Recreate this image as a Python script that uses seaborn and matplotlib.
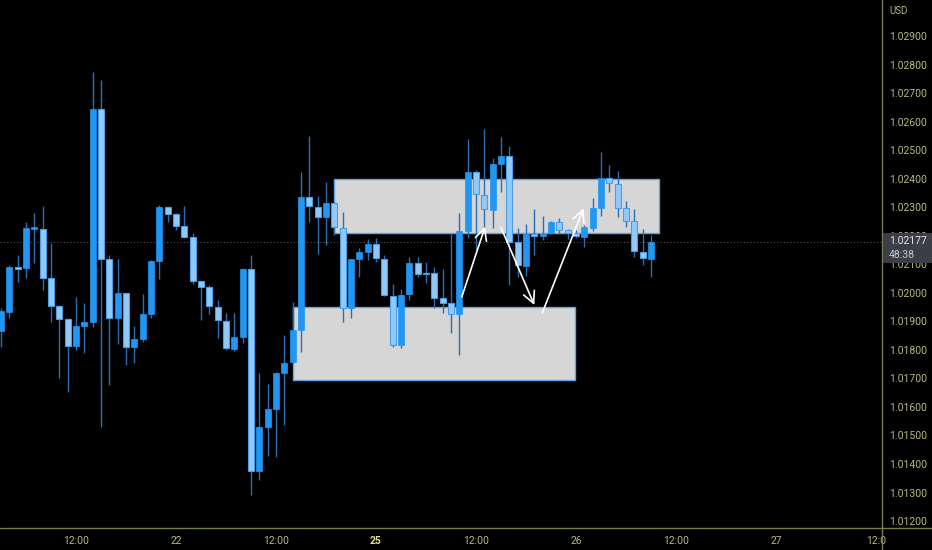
import numpy as np
import pandas as pd
import seaborn as sns
import matplotlib.pyplot as plt
from matplotlib.patches import Rectangle
from matplotlib.lines import Line2D

# hourly candles (left to right)
opens = [1.01866, 1.01933, 1.02090, 1.02087, 1.02225, 1.02224, 1.02052, 1.01954, 1.01908, 1.01813,
         1.01884, 1.01898, 1.02644, 1.02118, 1.01912, 1.01999, 1.01810, 1.01838, 1.01926, 1.02111,
         1.02301, 1.02276, 1.02234, 1.02196, 1.02041, 1.02020, 1.01950, 1.01901, 1.01803, 1.01845,
         1.02083, 1.01375, 1.01530, 1.01593, 1.01719, 1.01757, 1.01870, 1.02336, 1.02301, 1.02266,
         1.02315, 1.02227, 1.01947, 1.02118, 1.02143, 1.02171, 1.02118, 1.01989, 1.01817, 1.01996,
         1.02104, 1.02069, 1.02069, 1.01982, 1.01964, 1.01926, 1.02217, 1.02423, 1.02343, 1.02290,
         1.02451, 1.02479, 1.02178, 1.02094, 1.02206, 1.02199, 1.02210, 1.02248, 1.02220, 1.02210,
         1.02196, 1.02227, 1.02297, 1.02402, 1.02381, 1.02297, 1.02252, 1.02143, 1.02118]
highs = [1.01947, 1.02097, 1.02132, 1.02248, 1.02280, 1.02304, 1.02175, 1.01957, 1.01910, 1.01985,
         1.01964, 1.02774, 1.02746, 1.02132, 1.02118, 1.02000, 1.01884, 1.01996, 1.02115, 1.02308,
         1.02303, 1.02280, 1.02304, 1.02210, 1.02043, 1.02027, 1.01975, 1.01929, 1.01929, 1.02087,
         1.02132, 1.01719, 1.01680, 1.01722, 1.01852, 1.01968, 1.02423, 1.02550, 1.02339, 1.02388,
         1.02318, 1.02283, 1.02120, 1.02157, 1.02189, 1.02192, 1.02132, 1.02031, 1.02013, 1.02125,
         1.02125, 1.02108, 1.02090, 1.02083, 1.02210, 1.02280, 1.02539, 1.02430, 1.02574, 1.02472,
         1.02546, 1.02515, 1.02227, 1.02241, 1.02294, 1.02269, 1.02252, 1.02262, 1.02222, 1.02220,
         1.02238, 1.02332, 1.02493, 1.02448, 1.02427, 1.02322, 1.02294, 1.02224, 1.02203]
lows = [1.01810, 1.01912, 1.02038, 1.02052, 1.02104, 1.02010, 1.01898, 1.01701, 1.01652, 1.01799,
        1.01789, 1.01880, 1.01530, 1.01677, 1.01820, 1.01747, 1.01754, 1.01827, 1.01912, 1.02048,
        1.02248, 1.02220, 1.02192, 1.02031, 1.01905, 1.01926, 1.01842, 1.01799, 1.01796, 1.01824,
        1.01291, 1.01344, 1.01428, 1.01424, 1.01537, 1.01754, 1.01792, 1.02248, 1.02136, 1.02168,
        1.02203, 1.01898, 1.01912, 1.02055, 1.02115, 1.02108, 1.01989, 1.01810, 1.01806, 1.01975,
        1.02055, 1.02034, 1.01947, 1.01929, 1.01859, 1.01782, 1.02192, 1.02150, 1.02227, 1.02227,
        1.02353, 1.02027, 1.02055, 1.02059, 1.02132, 1.02185, 1.02206, 1.02206, 1.02189, 1.02192,
        1.02160, 1.02217, 1.02269, 1.02353, 1.02266, 1.02231, 1.02125, 1.02097, 1.02055]
closes = [1.01936, 1.02090, 1.02085, 1.02227, 1.02228, 1.02052, 1.01954, 1.01908, 1.01813, 1.01884,
          1.01898, 1.02644, 1.02118, 1.01912, 1.01999, 1.01810, 1.01838, 1.01926, 1.02111, 1.02301,
          1.02276, 1.02234, 1.02196, 1.02041, 1.02020, 1.01954, 1.01905, 1.01806, 1.01845, 1.02083,
          1.01375, 1.01530, 1.01593, 1.01719, 1.01754, 1.01870, 1.02336, 1.02304, 1.02266, 1.02315,
          1.02231, 1.01947, 1.02118, 1.02143, 1.02171, 1.02122, 1.01992, 1.01817, 1.01992, 1.02104,
          1.02066, 1.02067, 1.01982, 1.01964, 1.01926, 1.02217, 1.02423, 1.02346, 1.02294, 1.02451,
          1.02479, 1.02178, 1.02097, 1.02206, 1.02199, 1.02206, 1.02248, 1.02220, 1.02210, 1.02199,
          1.02231, 1.02297, 1.02402, 1.02385, 1.02297, 1.02252, 1.02146, 1.02122, 1.02177]

last_price = 1.02177
countdown = "48:38"

price_ticks = [1.012, 1.013, 1.014, 1.015, 1.016, 1.017, 1.018, 1.019, 1.020,
               1.021, 1.022, 1.023, 1.024, 1.025, 1.026, 1.027, 1.028, 1.029]
time_ticks = [9, 21, 33, 45, 57, 69, 81, 93, 105]
time_labels = ["12:00", "22", "12:00", "25", "12:00", "26", "12:00", "27", "12:0"]

# supply / demand boxes: bar start, bar end, low, high
zone_upper = [40.0, 78.9, 1.02208, 1.02400]
zone_lower = [35.0, 68.9, 1.01695, 1.01950]

# hand-drawn arrows: (bar, price) start -> end
arrow_starts = [(55.3, 1.01986), (60.0, 1.02229), (64.96, 1.01930)]
arrow_ends = [(58.1, 1.02232), (64.0, 1.01957), (69.9, 1.02296)]

df = pd.DataFrame({"open": opens, "high": highs, "low": lows, "close": closes})
df["bar"] = np.arange(len(df))
df["up"] = df["close"] >= df["open"]
df["bottom"] = df[["open", "close"]].min(axis=1)
df["body"] = (df["close"] - df["open"]).abs().clip(lower=0.00004)

sns.set_theme(style="dark", rc={"axes.facecolor": "black", "figure.facecolor": "black"})
plt.rcParams["font.family"] = ["Roboto", "DejaVu Sans"]

axis_col = "#7c7c4a"
text_col = "#b9b97c"

fig = plt.figure(figsize=(9.32, 5.5), dpi=100)
ax = fig.add_axes([0, 22 / 550, 882 / 932, 528 / 550])
ax.set_facecolor("black")

for lo_hi in [zone_upper, zone_lower]:
    x0, x1, lo, hi = lo_hi
    ax.add_patch(Rectangle((x0, lo), x1 - x0, hi - lo, facecolor="#d6d6d6",
                           edgecolor="#5ea6e6", lw=1, zorder=2))

ax.axhline(last_price, color="#5a5a5a", lw=0.8, ls=(0, (1, 2)), zorder=1)

ax.vlines(df["bar"], df["low"], df["high"], color="#2b6fb3", lw=1, zorder=3)
up = df[df["up"]]
dn = df[~df["up"]]
ax.bar(up["bar"], up["body"], bottom=up["bottom"], width=0.72, color="#2196f3",
       edgecolor="#2196f3", lw=0.5, zorder=4)
ax.bar(dn["bar"], dn["body"], bottom=dn["bottom"], width=0.72, color="#90caf9",
       edgecolor="#4a9de6", lw=0.8, zorder=4)

for s, e in zip(arrow_starts, arrow_ends):
    ax.annotate("", xy=e, xytext=s, zorder=6,
                arrowprops=dict(arrowstyle="->,head_length=0.7,head_width=0.35",
                                color="white", lw=1.2, shrinkA=0, shrinkB=0))

ax.set_xlim(-0.12, 105.72)
ax.set_ylim(1.011756, 1.030262)
ax.yaxis.tick_right()
ax.set_yticks(price_ticks)
ax.set_yticklabels([f"{p:.5f}" for p in price_ticks])
ax.set_xticks(time_ticks)
ax.set_xticklabels(time_labels)
ax.tick_params(axis="y", length=0, pad=5, labelsize=7.5, labelcolor=text_col)
ax.tick_params(axis="x", length=0, pad=6, labelsize=7.5, labelcolor=text_col)
for lab in ax.get_xticklabels():
    if lab.get_text() == "25":
        lab.set_fontweight("bold")
        lab.set_color("#e2e29a")
ax.grid(False)
for sp in ax.spines.values():
    sp.set_visible(False)

# axis frame lines running to the figure edges
fig.add_artist(Line2D([882 / 932, 882 / 932], [0, 1], color=axis_col, lw=1))
fig.add_artist(Line2D([0, 1], [22 / 550, 22 / 550], color=axis_col, lw=1))

fig.text(889 / 932, 1 - 11 / 550, "USD", fontsize=7, color=text_col, va="center")

# last price tag
fig.add_artist(Rectangle((883 / 932, 1 - 263 / 550), 49 / 932, 30 / 550,
                         transform=fig.transFigure, facecolor="#3b3e47",
                         edgecolor="none", zorder=5))
fig.text(889 / 932, 1 - 241 / 550, f"{last_price:.5f}", fontsize=7.5, color="#e6e6e6",
         va="center", zorder=6)
fig.text(889 / 932, 1 - 255 / 550, countdown, fontsize=7.5, color="#c9c9c9",
         va="center", zorder=6)

fig.savefig("out.png", dpi=100, facecolor="black")
